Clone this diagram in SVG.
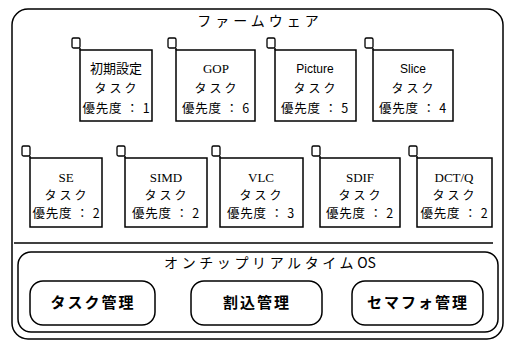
<svg xmlns="http://www.w3.org/2000/svg" width="506" height="345" viewBox="0 0 506 345">
<style>
.ln{fill:none;stroke:#000;stroke-width:1.5}
.bx{fill:#fff;stroke:#000;stroke-width:1.5}
.sq{fill:#fff;stroke:#000;stroke-width:1.3}
.t{font-family:"Noto Sans CJK JP",sans-serif;font-size:13px;fill:#000;text-anchor:middle}
.nm{font-family:"Liberation Serif","Noto Sans CJK JP",serif;font-size:13px;fill:#000;text-anchor:middle}
.ns{font-family:"Liberation Sans","Noto Sans CJK JP",sans-serif;font-size:12px;fill:#000;text-anchor:middle}
.tk{font-family:"Noto Sans CJK JP",sans-serif;font-size:12px;letter-spacing:3px;fill:#000;text-anchor:middle}
.pr{font-family:"Noto Sans CJK JP",sans-serif;font-size:12.5px;letter-spacing:0.8px;fill:#000;text-anchor:middle}
.ti{font-family:"Noto Sans CJK JP",sans-serif;font-size:14px;letter-spacing:4px;fill:#000;text-anchor:middle}
.to{font-family:"Noto Sans CJK JP",sans-serif;font-size:14px;letter-spacing:3.6px;fill:#000;text-anchor:middle}
.mg{font-family:"Noto Sans CJK JP",sans-serif;font-size:15px;letter-spacing:2px;fill:#000;text-anchor:middle;font-weight:bold}
</style>
<g id="firmware">
<rect x="12" y="9" width="491" height="330" rx="16" class="ln"/>
<text x="260" y="26" class="ti">ファームウェア</text>
<line x1="14" y1="243" x2="493" y2="243" class="ln"/>
</g>
<g id="task-init">
<rect x="80" y="50" width="72" height="71" class="bx"/>
<rect x="72" y="38" width="8" height="10" rx="1.5" class="sq"/>
<line x1="80" y1="48" x2="80" y2="50" class="ln"/>
<text x="116" y="73" class="t">初期設定</text>
<text x="117" y="93" class="tk">タスク</text>
<text x="116.5" y="113" class="pr">優先度 ： 1</text>
</g>
<g id="task-gop">
<rect x="176" y="50" width="79" height="71" class="bx"/>
<rect x="168" y="38" width="8" height="10" rx="1.5" class="sq"/>
<line x1="176" y1="48" x2="176" y2="50" class="ln"/>
<text x="216" y="73" class="nm">GOP</text>
<text x="217" y="93" class="tk">タスク</text>
<text x="216" y="113" class="pr">優先度 ： 6</text>
</g>
<g id="task-picture">
<rect x="275" y="50" width="81" height="71" class="bx"/>
<rect x="267" y="38" width="8" height="10" rx="1.5" class="sq"/>
<line x1="275" y1="48" x2="275" y2="50" class="ln"/>
<text x="315" y="73" class="ns">Picture</text>
<text x="316" y="93" class="tk">タスク</text>
<text x="315" y="113" class="pr">優先度 ： 5</text>
</g>
<g id="task-slice">
<rect x="373" y="50" width="80" height="71" class="bx"/>
<rect x="365" y="38" width="8" height="10" rx="1.5" class="sq"/>
<line x1="373" y1="48" x2="373" y2="50" class="ln"/>
<text x="413" y="73" class="ns">Slice</text>
<text x="414" y="93" class="tk">タスク</text>
<text x="413" y="113" class="pr">優先度 ： 4</text>
</g>
<g id="task-se">
<rect x="30" y="158" width="72" height="69" class="bx"/>
<rect x="22" y="146" width="8" height="10" rx="1.5" class="sq"/>
<line x1="30" y1="156" x2="30" y2="158" class="ln"/>
<text x="66" y="182" class="nm">SE</text>
<text x="67" y="200" class="tk">タスク</text>
<text x="66.5" y="218" class="pr">優先度 ： 2</text>
</g>
<g id="task-simd">
<rect x="125" y="158" width="82" height="69" class="bx"/>
<rect x="117" y="146" width="8" height="10" rx="1.5" class="sq"/>
<line x1="125" y1="156" x2="125" y2="158" class="ln"/>
<text x="166" y="182" class="nm">SIMD</text>
<text x="167" y="200" class="tk">タスク</text>
<text x="166" y="218" class="pr">優先度 ： 2</text>
</g>
<g id="task-vlc">
<rect x="220" y="158" width="83" height="69" class="bx"/>
<rect x="212" y="146" width="8" height="10" rx="1.5" class="sq"/>
<line x1="220" y1="156" x2="220" y2="158" class="ln"/>
<text x="261" y="182" class="nm">VLC</text>
<text x="262" y="200" class="tk">タスク</text>
<text x="261" y="218" class="pr">優先度 ： 3</text>
</g>
<g id="task-sdif">
<rect x="320" y="158" width="80" height="69" class="bx"/>
<rect x="312" y="146" width="8" height="10" rx="1.5" class="sq"/>
<line x1="320" y1="156" x2="320" y2="158" class="ln"/>
<text x="360" y="182" class="nm">SDIF</text>
<text x="361" y="200" class="tk">タスク</text>
<text x="360" y="218" class="pr">優先度 ： 2</text>
</g>
<g id="task-dctq">
<rect x="417" y="158" width="75" height="69" class="bx"/>
<rect x="409" y="146" width="8" height="10" rx="1.5" class="sq"/>
<line x1="417" y1="156" x2="417" y2="158" class="ln"/>
<text x="454" y="182" class="nm">DCT/Q</text>
<text x="455" y="200" class="tk">タスク</text>
<text x="454.5" y="218" class="pr">優先度 ： 2</text>
</g>
<g id="rtos">
<rect x="18" y="252" width="480" height="80" rx="13" class="ln"/>
<text x="270" y="268" class="to">オンチップリアルタイム<tspan letter-spacing="0">OS</tspan></text>
</g>
<g id="task-mgmt">
<rect x="30" y="281" width="125" height="44" rx="13" class="ln"/>
<text x="93" y="308" class="mg">タスク管理</text>
</g>
<g id="irq-mgmt">
<rect x="191" y="281" width="131" height="44" rx="13" class="ln"/>
<text x="257" y="308" class="mg">割込管理</text>
</g>
<g id="sem-mgmt">
<rect x="352" y="281" width="131" height="44" rx="13" class="ln"/>
<text x="418" y="308" class="mg">セマフォ管理</text>
</g>
<g id="connectors"></g>
</svg>
